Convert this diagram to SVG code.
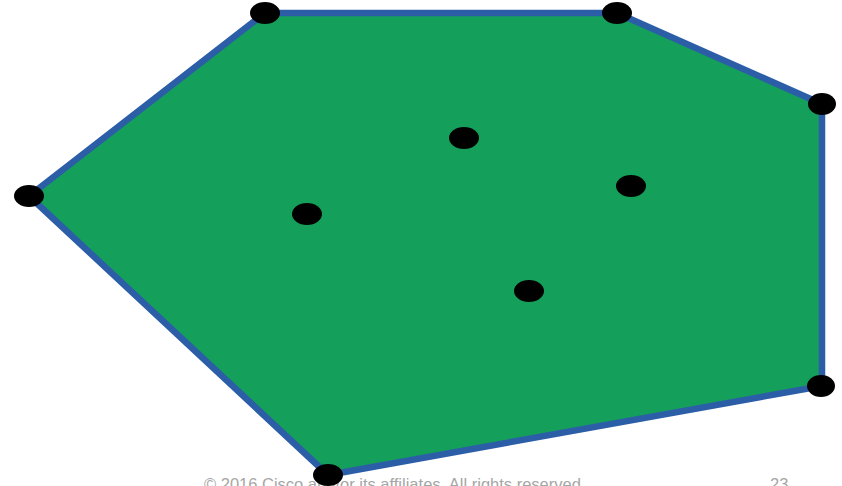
<svg xmlns="http://www.w3.org/2000/svg" width="842" height="486" viewBox="0 0 842 486">
<style>
.ft{font-family:"Liberation Sans",Arial,sans-serif;font-size:16.5px;fill:#a6a6a6}
.pt{fill:#000}
</style>
<rect width="842" height="486" fill="#fff"/>
<text class="ft" x="204" y="490">© 2016  Cisco and/or its affiliates. All rights reserved.</text>
<text class="ft" x="770" y="490">23</text>
<g id="hull">
<polygon points="265,13 617,13 822,104 822,386 328,475 29,196" fill="#14a05a" stroke="#2c5ea8" stroke-width="6.5" stroke-linejoin="round"/>
</g>
<g id="points">
<ellipse class="pt" cx="265" cy="13" rx="15" ry="11"/>
<ellipse class="pt" cx="617" cy="13" rx="15" ry="11"/>
<ellipse class="pt" cx="822" cy="104" rx="14" ry="11"/>
<ellipse class="pt" cx="821" cy="386" rx="14" ry="11"/>
<ellipse class="pt" cx="328" cy="475" rx="15" ry="11"/>
<ellipse class="pt" cx="29" cy="196" rx="15" ry="11"/>
<ellipse class="pt" cx="464" cy="138" rx="15" ry="11"/>
<ellipse class="pt" cx="631" cy="186" rx="15" ry="11"/>
<ellipse class="pt" cx="307" cy="214" rx="15" ry="11"/>
<ellipse class="pt" cx="529" cy="291" rx="15" ry="11"/>
</g>
</svg>
